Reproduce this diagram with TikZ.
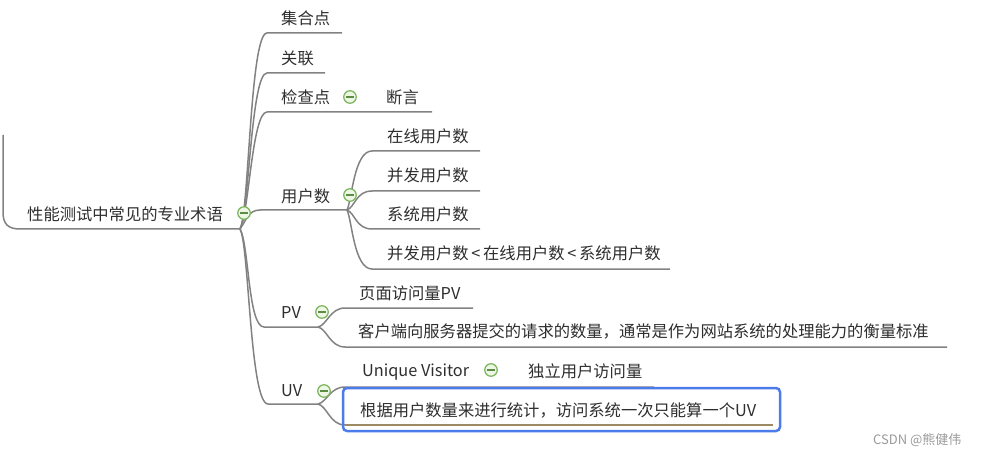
\documentclass[tikz,border=0pt]{standalone}
\usepackage{fontspec}
\setmainfont{Noto Sans CJK SC}
\definecolor{linegray}{HTML}{828282}
\definecolor{textgray}{HTML}{2E2E2E}
\definecolor{icongreen}{HTML}{7AB55C}
\definecolor{iconfill}{HTML}{EEF6E6}
\definecolor{minusgreen}{HTML}{5D8C45}
\definecolor{selblue}{HTML}{4C7BEA}
\definecolor{brownline}{HTML}{9B8A62}
\definecolor{wmgray}{HTML}{9A9A9A}
\tikzset{
  branch/.style={draw=linegray, line width=1.5pt},
  lbl/.style={anchor=west, inner sep=0pt, text=textgray, font=\fontsize{16.3}{18}\selectfont},
  collapse/.style={circle, draw=icongreen, line width=1.2pt, fill=iconfill, minimum size=12.5pt, inner sep=0pt,
    path picture={\draw[minusgreen, line width=1.6pt] ([xshift=-3.6pt]path picture bounding box.center) -- ([xshift=3.6pt]path picture bounding box.center);}},
}
\begin{document}
\begin{tikzpicture}[x=1pt, y=-1pt]
\useasboundingbox (0,0) rectangle (988,457);
% junctions and line ends
\coordinate (rootin) at (3,135);
\coordinate (J) at (240,229);
\coordinate (K) at (347,210);
\coordinate (L) at (318,327);
\coordinate (M) at (318,404);
% root
\node[lbl] (root) at (27,214) {性能测试中常见的专业术语};
\draw[branch] (rootin) -- (3,212) .. controls (3,224) and (8,229) .. (20,229) -- (J);
% level 1 texts
\node[lbl] (jhd) at (281,18) {集合点};
\node[lbl] (gl) at (281,58) {关联};
\node[lbl] (jcd) at (281,97) {检查点};
\node[lbl] (dy) at (386,97) {断言};
\node[lbl] (yhs) at (281,196) {用户数};
\node[lbl] (pv) at (281,313) {PV};
\node[lbl] (uv) at (281,391) {UV};
% level 1 connectors
\draw[branch] (J) .. controls (249,214) and (250,33) .. (267,33) -- (342,33);
\draw[branch] (J) .. controls (249,214) and (251,73) .. (267,73) -- (325,73);
\draw[branch] (J) .. controls (249,214) and (252,112) .. (267,112) -- (432,112);
\draw[branch] (J) .. controls (246,221) and (248,210) .. (260,210) -- (K);
\draw[branch] (J) .. controls (249,244) and (248,327) .. (264,327) -- (L);
\draw[branch] (J) .. controls (249,244) and (250,404) .. (268,404) -- (M);
% level 2 texts
\node[lbl] (zx) at (387,136) {在线用户数};
\node[lbl] (bf) at (387,175) {并发用户数};
\node[lbl] (xt) at (387,214) {系统用户数};
\node[lbl] (gx) at (387,253) {并发用户数\,<\,在线用户数\,<\,系统用户数};
\node[lbl] (ym) at (359,293) {页面访问量PV};
\node[lbl] (kh) at (358,331) {客户端向服务器提交的请求的数量，通常是作为网站系统的处理能力的衡量标准};
\node[lbl] (unv) at (362,372) {Unique Visitor};
\node[lbl] (dl) at (528,371) {独立用户访问量};
% level 2 connectors
\draw[branch] (K) .. controls (352,200) and (354,151) .. (372,151) -- (480,151);
\draw[branch] (K) .. controls (355,207) and (356,191) .. (372,191) -- (480,191);
\draw[branch] (K) .. controls (355,213) and (356,229) .. (372,229) -- (480,229);
\draw[branch] (K) .. controls (352,220) and (354,269) .. (372,269) -- (670,269);
\draw[branch] (L) .. controls (327,325) and (330,308) .. (345,308) -- (473,308);
\draw[branch] (L) .. controls (327,329) and (330,347) .. (345,347) -- (947,347);
\draw[branch] (M) .. controls (327,402) and (330,387) .. (345,387) -- (654,387);
\draw[branch] (M) .. controls (327,406) and (330,425) .. (345,425);
% selected topic
\draw[brownline, line width=1.4pt] (345,425) -- (773,425);
\node[lbl] (gj) at (360,410) {根据用户数量来进行统计，访问系统一次只能算一个UV};
\draw[selblue, line width=2.5pt, rounded corners=4pt] (343,388) rectangle (780,431);
% collapse icons
\node[collapse] (i-root) at (244,213) {};
\node[collapse] (i-jcd) at (350,97) {};
\node[collapse] (i-yhs) at (350,195) {};
\node[collapse] (i-pv) at (322,312) {};
\node[collapse] (i-uv) at (324,391) {};
\node[collapse] (i-unv) at (491,370) {};
% watermark
\node[anchor=west, inner sep=0pt, text=wmgray, font=\fontsize{13}{15}\selectfont] (wm) at (873,440) {CSDN @熊健伟};
\end{tikzpicture}
\end{document}
